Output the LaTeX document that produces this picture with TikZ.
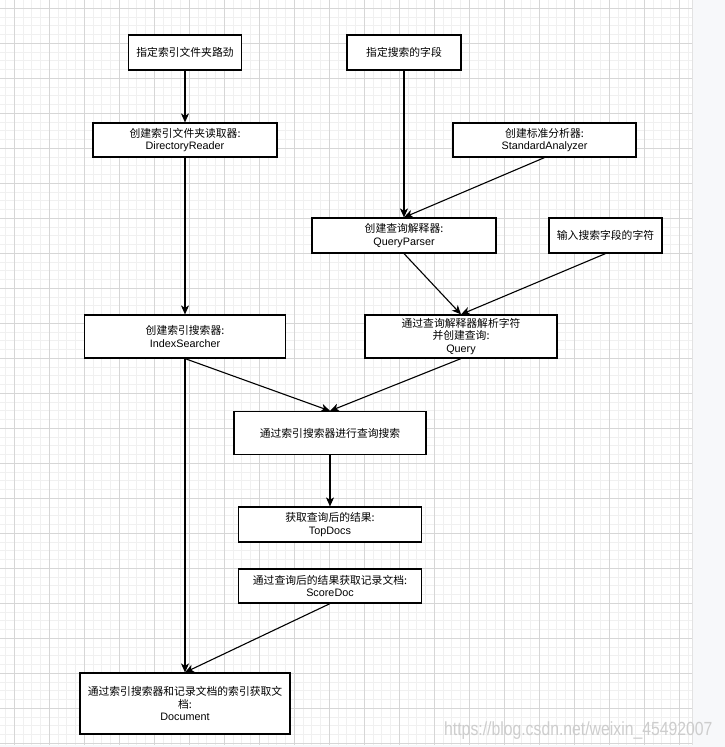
\documentclass[tikz,border=0pt]{standalone}
\usepackage{fontspec}
\usepackage{graphicx}
\setmainfont{Liberation Sans}
\newfontfamily\cjk{Noto Sans CJK SC}
\usetikzlibrary{arrows.meta}
\definecolor{minorgrid}{HTML}{F0F0F0}
\definecolor{majorgrid}{HTML}{D6D6D6}
\definecolor{sidebg}{HTML}{F7F8FA}
\definecolor{sideedge}{HTML}{E2E2E2}
\definecolor{wmark}{HTML}{CDCDCD}
\begin{document}
\begin{tikzpicture}[x=1pt,y=-1pt,
  box/.style={draw=black,line width=1.2pt,fill=white,align=center,inner sep=0pt,
    font=\fontsize{10.8}{12.5}\selectfont},
  arr/.style={draw=black,line width=1.1pt,-{Stealth[length=9pt,width=8pt,inset=2.5pt]}},
  minorline/.style={draw=minorgrid,line width=1pt},
  majorline/.style={draw=majorgrid,line width=1pt}]
\useasboundingbox (0,0) rectangle (725,747);
\fill[white] (0,0) rectangle (725,747);
\fill[sidebg] (692,0) rectangle (725,747);
\fill[sidebg] (0,744.5) rectangle (692,747);
% grid
\foreach \i in {0,...,78} {
  \pgfmathsetmacro\xx{5.55+8.75*\i}
  \draw[minorline] (\xx,0) -- (\xx,744.5);
}
\foreach \i in {0,...,84} {
  \pgfmathsetmacro\yy{8.3+8.75*\i}
  \draw[minorline] (0,\yy) -- (691.5,\yy);
}
\foreach \i in {0,...,19} {
  \pgfmathsetmacro\xx{14.3+35*\i}
  \draw[majorline] (\xx,0) -- (\xx,744.5);
}
\foreach \i in {0,...,21} {
  \pgfmathsetmacro\yy{8.3+35*\i}
  \draw[majorline] (0,\yy) -- (691.5,\yy);
}
\draw[sideedge,line width=1.5pt] (692.5,0) -- (692.5,744.5);

% nodes
\node[box,minimum width=113pt,minimum height=35pt] (n1) at (185,52.5) {{\cjk 指定索引文件夹路劲}};
\node[box,minimum width=114pt,minimum height=35pt] (n2) at (404,52.5) {{\cjk 指定搜索的字段}};
\node[box,minimum width=184pt,minimum height=34pt] (n3) at (185,140) {{\cjk 创建索引文件夹读取器:}\\DirectoryReader};
\node[box,minimum width=183pt,minimum height=34pt] (n4) at (544.5,140) {{\cjk 创建标准分析器:}\\StandardAnalyzer};
\node[box,minimum width=184pt,minimum height=35pt] (n5) at (404,235.5) {{\cjk 创建查询解释器:}\\QueryParser};
\node[box,minimum width=113pt,minimum height=35pt] (n6) at (605.5,235.5) {{\cjk 输入搜索字段的字符}};
\node[box,minimum width=201pt,minimum height=43pt] (n7) at (185,336.5) {{\cjk 创建索引搜索器:}\\IndexSearcher};
\node[box,minimum width=192pt,minimum height=43pt] (n8) at (461,336.5) {{\cjk 通过查询解释器解析字符}\\{\cjk 并创建查询:}\\Query};
\node[box,minimum width=192pt,minimum height=43pt] (n9) at (330,433) {{\cjk 通过索引搜索器进行查询搜索}};
\node[box,minimum width=183pt,minimum height=35pt] (n10) at (330,524.5) {{\cjk 获取查询后的结果:}\\TopDocs};
\node[box,minimum width=183pt,minimum height=34pt] (n11) at (330,586) {{\cjk 通过查询后的结果获取记录文档:}\\ScoreDoc};
\node[box,minimum width=210pt,minimum height=61pt] (n12) at (185,703.5) {{\cjk 通过索引搜索器和记录文档的索引获取文}\\{\cjk 档:}\\Document};

% connectors
\draw[arr] (n1.south) -- (n3.north);
\draw[arr] (n2.south) -- (n5.north);
\draw[arr] (n4.south) -- (n5.north);
\draw[arr] (n3.south) -- (n7.north);
\draw[arr] (n5.south) -- (n8.north);
\draw[arr] (n6.south) -- (n8.north);
\draw[arr] (n7.south) -- (n9.north);
\draw[arr] (n8.south) -- (n9.north);
\draw[arr] (n9.south) -- (n10.north);
\draw[arr] (n7.south) -- (n12.north);
\draw[arr] (n11.south) -- (n12.north);

% watermark
\node[anchor=base west,inner sep=0pt,text=wmark,font=\fontsize{19}{19}\selectfont] (wm) at (444,735) {\scalebox{0.83}[1]{https://blog.csdn.net/weixin\_45492007}};
\end{tikzpicture}
\end{document}
